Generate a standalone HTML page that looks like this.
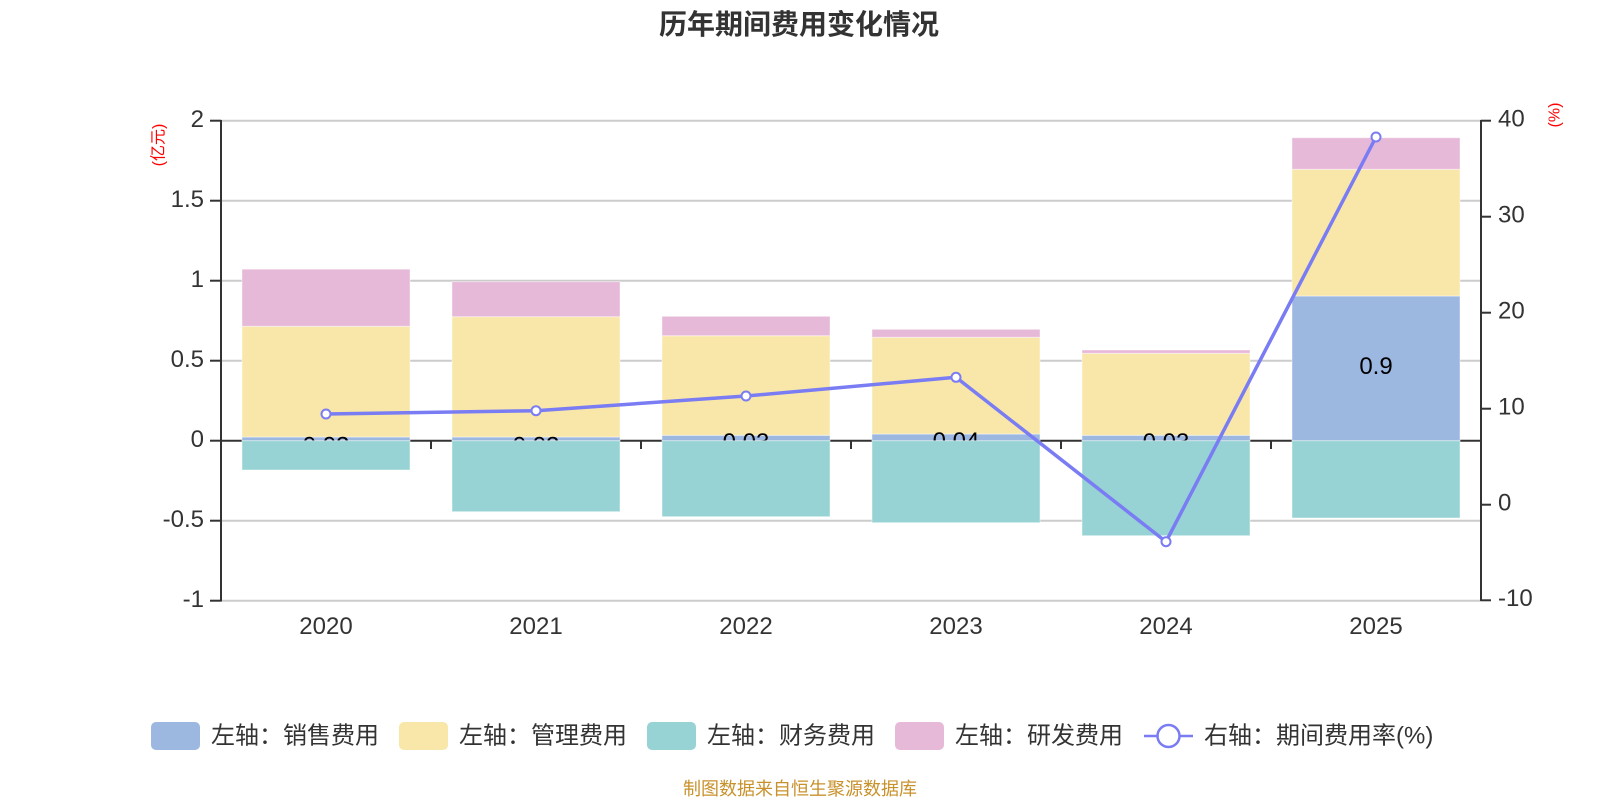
<!DOCTYPE html>
<html>
<head>
<meta charset="utf-8">
<style>
  html,body{margin:0;padding:0;background:#fff;}
  svg{display:block;}
  text{font-family:"Liberation Sans","Noto Sans CJK SC",sans-serif;}
  .cjk{font-family:"Liberation Sans","Noto Sans CJK SC",sans-serif;}
</style>
</head>
<body>
<svg width="1600" height="800" viewBox="0 0 1600 800" xmlns="http://www.w3.org/2000/svg">
  <rect x="0" y="0" width="1600" height="800" fill="#fff"/>

  <!-- Title -->
  <text x="799" y="34" text-anchor="middle" font-size="28" font-weight="bold" fill="#333" class="cjk">历年期间费用变化情况</text>

  <!-- Grid lines -->
  <g stroke="#cccccc" stroke-width="2">
    <line x1="221" y1="120.7" x2="1481" y2="120.7"/>
    <line x1="221" y1="200.7" x2="1481" y2="200.7"/>
    <line x1="221" y1="280.7" x2="1481" y2="280.7"/>
    <line x1="221" y1="360.7" x2="1481" y2="360.7"/>
    <line x1="221" y1="520.7" x2="1481" y2="520.7"/>
    <line x1="221" y1="600.7" x2="1481" y2="600.7"/>
  </g>

  <!-- Zero axis line with ticks -->
  <g stroke="#333" stroke-width="2">
    <line x1="221" y1="440.7" x2="1481" y2="440.7"/>
    <line x1="431" y1="440.7" x2="431" y2="449"/>
    <line x1="641" y1="440.7" x2="641" y2="449"/>
    <line x1="851" y1="440.7" x2="851" y2="449"/>
    <line x1="1061" y1="440.7" x2="1061" y2="449"/>
    <line x1="1271" y1="440.7" x2="1271" y2="449"/>
  </g>

  <!-- Left axis -->
  <g stroke="#333" stroke-width="2">
    <line x1="221" y1="120" x2="221" y2="601.5"/>
    <line x1="210" y1="120.7" x2="221" y2="120.7"/>
    <line x1="210" y1="200.7" x2="221" y2="200.7"/>
    <line x1="210" y1="280.7" x2="221" y2="280.7"/>
    <line x1="210" y1="360.7" x2="221" y2="360.7"/>
    <line x1="210" y1="440.7" x2="221" y2="440.7"/>
    <line x1="210" y1="520.7" x2="221" y2="520.7"/>
    <line x1="210" y1="600.7" x2="221" y2="600.7"/>
  </g>
  <g font-size="24" fill="#333" text-anchor="end">
    <text x="204" y="127">2</text>
    <text x="204" y="207">1.5</text>
    <text x="204" y="287">1</text>
    <text x="204" y="367">0.5</text>
    <text x="204" y="447">0</text>
    <text x="204" y="527">-0.5</text>
    <text x="204" y="607">-1</text>
  </g>
  <text transform="translate(159,145) rotate(-90)" text-anchor="middle" dominant-baseline="central" font-size="16" fill="#ff0000" class="cjk">(亿元)</text>

  <!-- Right axis -->
  <g stroke="#333" stroke-width="2">
    <line x1="1481" y1="120" x2="1481" y2="601"/>
    <line x1="1481" y1="120.7" x2="1491" y2="120.7"/>
    <line x1="1481" y1="216.7" x2="1491" y2="216.7"/>
    <line x1="1481" y1="312.7" x2="1491" y2="312.7"/>
    <line x1="1481" y1="408.7" x2="1491" y2="408.7"/>
    <line x1="1481" y1="504.7" x2="1491" y2="504.7"/>
    <line x1="1481" y1="600.3" x2="1491" y2="600.3"/>
  </g>
  <g font-size="24" fill="#333" text-anchor="start">
    <text x="1498" y="126.5">40</text>
    <text x="1498" y="222.5">30</text>
    <text x="1498" y="318.5">20</text>
    <text x="1498" y="414.5">10</text>
    <text x="1498" y="510.5">0</text>
    <text x="1498" y="606">-10</text>
  </g>
  <text transform="translate(1555,115) rotate(-90)" text-anchor="middle" dominant-baseline="central" font-size="16" fill="#ff0000">(%)</text>

  <!-- X labels -->
  <g font-size="24" fill="#333" text-anchor="middle">
    <text x="326" y="634">2020</text>
    <text x="536" y="634">2021</text>
    <text x="746" y="634">2022</text>
    <text x="956" y="634">2023</text>
    <text x="1166" y="634">2024</text>
    <text x="1376" y="634">2025</text>
  </g>

  <!-- Bars: blue, yellow, pink -->
  <g stroke="#ffffff" stroke-opacity="0.45" stroke-width="1">
    <!-- 2020 -->
    <rect x="242" y="437" width="168" height="3.7" fill="#9cb7e0"/>
    <rect x="242" y="326.3" width="168" height="110.7" fill="#f8e7a9"/>
    <rect x="242" y="269.2" width="168" height="57.1" fill="#e7b9d8"/>
    <!-- 2021 -->
    <rect x="452" y="437" width="168" height="3.7" fill="#9cb7e0"/>
    <rect x="452" y="316.7" width="168" height="120.3" fill="#f8e7a9"/>
    <rect x="452" y="281.7" width="168" height="35" fill="#e7b9d8"/>
    <!-- 2022 -->
    <rect x="662" y="435.3" width="168" height="5.4" fill="#9cb7e0"/>
    <rect x="662" y="335.7" width="168" height="99.6" fill="#f8e7a9"/>
    <rect x="662" y="316.3" width="168" height="19.4" fill="#e7b9d8"/>
    <!-- 2023 -->
    <rect x="872" y="434" width="168" height="6.7" fill="#9cb7e0"/>
    <rect x="872" y="337.3" width="168" height="96.7" fill="#f8e7a9"/>
    <rect x="872" y="329.3" width="168" height="8" fill="#e7b9d8"/>
    <!-- 2024 -->
    <rect x="1082" y="435.3" width="168" height="5.4" fill="#9cb7e0"/>
    <rect x="1082" y="353.3" width="168" height="82" fill="#f8e7a9"/>
    <rect x="1082" y="350" width="168" height="3.3" fill="#e7b9d8"/>
    <!-- 2025 -->
    <rect x="1292" y="296" width="168" height="144.7" fill="#9cb7e0"/>
    <rect x="1292" y="169.3" width="168" height="126.7" fill="#f8e7a9"/>
    <rect x="1292" y="137.7" width="168" height="31.6" fill="#e7b9d8"/>
  </g>

  <!-- Labels (partially covered by teal bars) -->
  <g font-size="24" fill="#000" text-anchor="middle">
    <text x="326" y="453.5">0.02</text>
    <text x="536" y="453.5">0.02</text>
    <text x="746" y="450">0.03</text>
    <text x="956" y="449">0.04</text>
    <text x="1166" y="450">0.03</text>
    <text x="1376" y="374">0.9</text>
  </g>

  <!-- Teal (negative) bars -->
  <g stroke="#ffffff" stroke-opacity="0.45" stroke-width="1" fill="#97d3d4">
    <rect x="242" y="440.7" width="168" height="29.3"/>
    <rect x="452" y="440.7" width="168" height="71"/>
    <rect x="662" y="440.7" width="168" height="76"/>
    <rect x="872" y="440.7" width="168" height="82"/>
    <rect x="1082" y="440.7" width="168" height="95"/>
    <rect x="1292" y="440.7" width="168" height="77.3"/>
  </g>

  <!-- Line series -->
  <polyline points="326,414 536,410.7 746,396 956,377.3 1166,541.7 1376,137" fill="none" stroke="#7a7cf4" stroke-width="3.5" stroke-linejoin="round"/>
  <g fill="#ffffff" stroke="#7a7cf4" stroke-width="2">
    <circle cx="326" cy="414" r="4.5"/>
    <circle cx="536" cy="410.7" r="4.5"/>
    <circle cx="746" cy="396" r="4.5"/>
    <circle cx="956" cy="377.3" r="4.5"/>
    <circle cx="1166" cy="541.7" r="4.5"/>
    <circle cx="1376" cy="137" r="4.5"/>
  </g>

  <!-- Legend -->
  <g font-size="24" fill="#333" class="cjk">
    <rect x="151" y="722" width="49" height="28" rx="5" fill="#9cb7e0"/>
    <text x="211" y="736" dominant-baseline="central">左轴：销售费用</text>
    <rect x="399" y="722" width="49" height="28" rx="5" fill="#f8e7a9"/>
    <text x="459" y="736" dominant-baseline="central">左轴：管理费用</text>
    <rect x="647" y="722" width="49" height="28" rx="5" fill="#97d3d4"/>
    <text x="707" y="736" dominant-baseline="central">左轴：财务费用</text>
    <rect x="895" y="722" width="49" height="28" rx="5" fill="#e7b9d8"/>
    <text x="955" y="736" dominant-baseline="central">左轴：研发费用</text>
    <line x1="1144" y1="736" x2="1193" y2="736" stroke="#7a7cf4" stroke-width="2.5"/>
    <circle cx="1168.5" cy="736" r="11" fill="#fff" stroke="#7a7cf4" stroke-width="2.5"/>
    <text x="1204" y="736" dominant-baseline="central">右轴：期间费用率(%)</text>
  </g>

  <!-- Footer -->
  <text x="800" y="795" text-anchor="middle" font-size="18" fill="#c8912c" class="cjk">制图数据来自恒生聚源数据库</text>
</svg>
</body>
</html>
